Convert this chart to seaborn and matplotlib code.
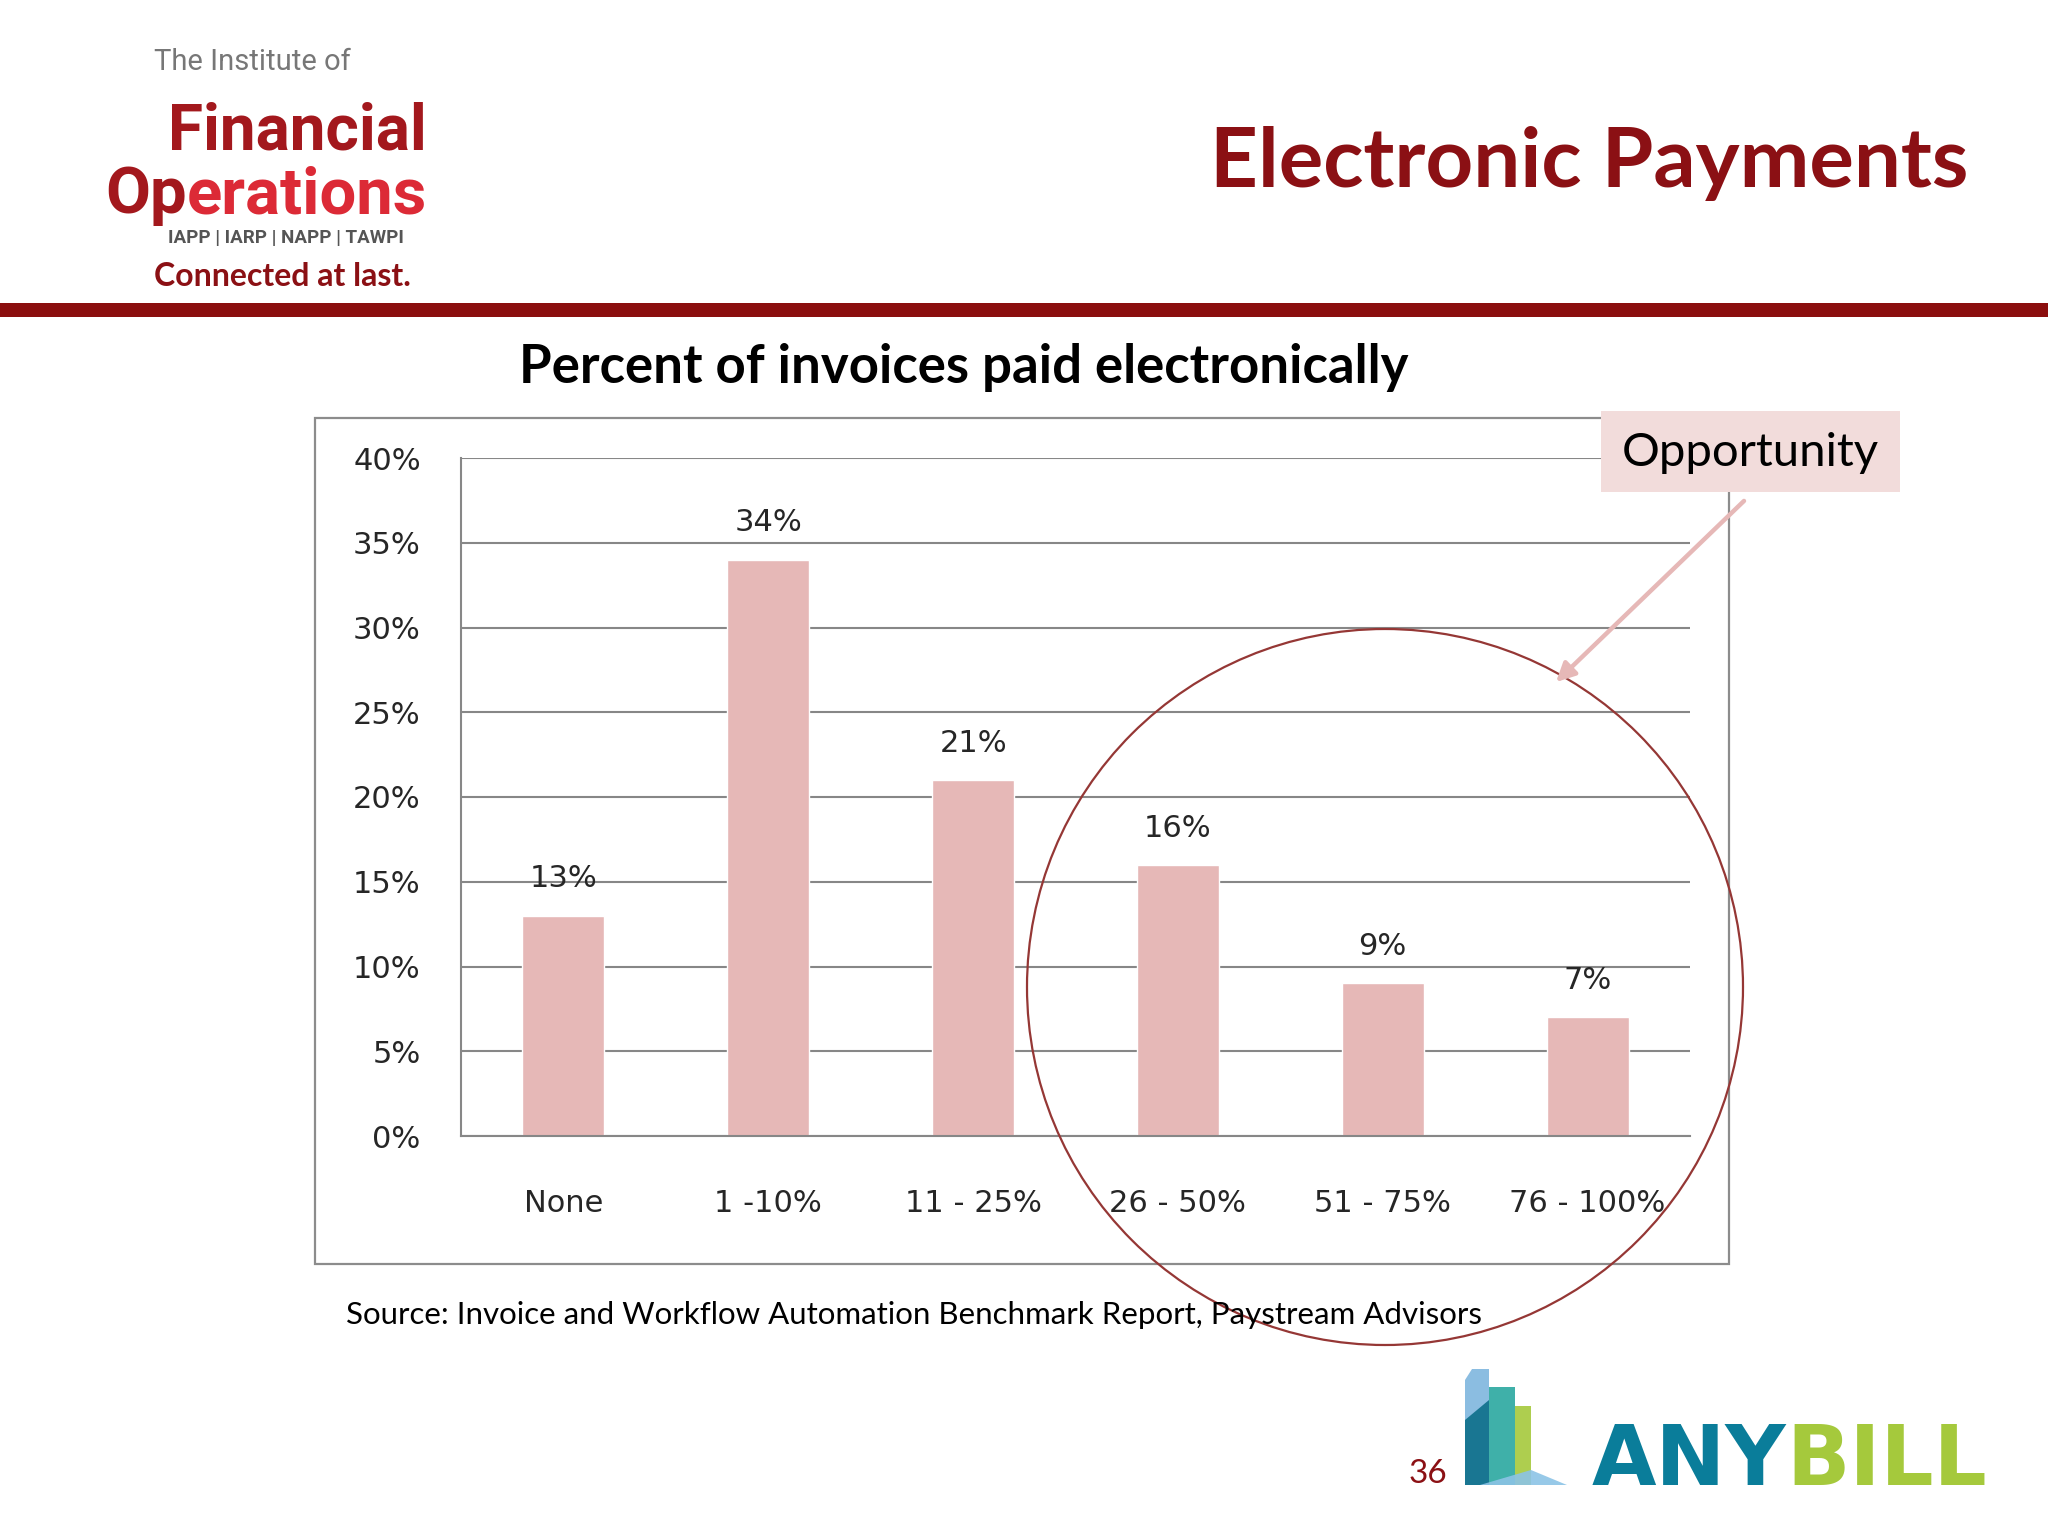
import matplotlib
matplotlib.use('Agg')
import matplotlib.pyplot as plt
import seaborn as sns
from matplotlib.patches import Rectangle, Ellipse, FancyArrowPatch, Polygon
from matplotlib.ticker import PercentFormatter, FixedLocator

# data
categories = ['None', '1 -10%', '11 - 25%', '26 - 50%', '51 - 75%', '76 - 100%']
share_paid = [0.13, 0.34, 0.21, 0.16, 0.09, 0.07]
bar_labels = ['13%', '34%', '21%', '16%', '9%', '7%']
y_ticks = [0, 0.05, 0.10, 0.15, 0.20, 0.25, 0.30, 0.35, 0.40]

W, H = 2048, 1536
def fx(x): return x / W          # pixel -> figure fraction
def fy(y): return 1 - y / H

sns.set_style('white')
plt.rcParams['font.family'] = ['DejaVu Sans']

dark_red = '#8b1014'
bar_pink = '#e6b8b7'
grid_grey = '#878787'
calibri_like = ['Lato', 'DejaVu Sans']
logo_font = ['Roboto', 'DejaVu Sans']

fig = plt.figure(figsize=(20.48, 15.36), dpi=100)
fig.patch.set_facecolor('white')
renderer = fig.canvas.get_renderer()

# header: logo text, title, red rule
fig.text(fx(252), fy(62), 'The Institute of', fontsize=21, color='#777777',
         family=logo_font, ha='center', va='center')
fig.text(fx(427), fy(149), 'Financial', fontsize=46, color='#a3181d', weight='bold',
         family=logo_font, ha='right', va='baseline')
rest = fig.text(fx(427), fy(213), 'erations', fontsize=47, color='#dc2a36', weight='bold',
                family=logo_font, ha='right', va='baseline')
rest_left = rest.get_window_extent(renderer).x0
fig.text(rest_left / W, fy(213), 'Op', fontsize=47, color='#a3181d', weight='bold',
         family=logo_font, ha='right', va='baseline')
fig.text(fx(286), fy(238), 'IAPP | IARP | NAPP | TAWPI', fontsize=13.5, color='#555555', weight='bold',
         family=logo_font, ha='center', va='center')
fig.text(fx(282), fy(277), 'Connected at last.', fontsize=23, color=dark_red, weight='bold',
         family=calibri_like, ha='center', va='center')
fig.text(fx(1968), fy(187), 'Electronic Payments', fontsize=60, color=dark_red, weight='bold',
         family=calibri_like, ha='right', va='baseline')
fig.add_artist(Rectangle((0, fy(317)), 1, fy(303) - fy(317), transform=fig.transFigure,
                         color='#8b0e0e', lw=0))

fig.text(fx(964), fy(368), 'Percent of invoices paid electronically', fontsize=38, weight='bold',
         family=calibri_like, ha='center', va='center', color='black')

# chart frame
fig.add_artist(Rectangle((fx(315), fy(1264)), fx(1729) - fx(315), fy(418) - fy(1264),
                         transform=fig.transFigure, fill=False, edgecolor='#8c8c8c', lw=1.6))

ax = fig.add_axes([fx(461), fy(1136), fx(1690) - fx(461), fy(458) - fy(1136)])
sns.barplot(x=categories, y=share_paid, color=bar_pink, saturation=1, width=0.4, ax=ax)
ax.bar_label(ax.containers[0], labels=bar_labels, padding=16, fontsize=22)

ax.set_xlim(-0.5, 5.5)
ax.set_ylim(0, 0.40)
ax.yaxis.set_major_locator(FixedLocator(y_ticks))
ax.yaxis.set_major_formatter(PercentFormatter(1.0, decimals=0))
ax.set_xticks([-0.5, 0.5, 1.5, 2.5, 3.5, 4.5, 5.5], minor=True)
ax.yaxis.grid(True, color=grid_grey, lw=1.5)
ax.set_axisbelow(True)
ax.set_xlabel('')
ax.set_ylabel('')
ax.patch.set_alpha(0)
for side in ['top', 'right']:
    ax.spines[side].set_visible(False)
for side in ['left', 'bottom']:
    ax.spines[side].set_color(grid_grey)
    ax.spines[side].set_linewidth(1.5)
ax.tick_params(axis='y', length=11, width=1.5, color=grid_grey, pad=18, labelsize=22)
ax.tick_params(axis='x', which='major', length=0, pad=38, labelsize=22)
ax.tick_params(axis='x', which='minor', length=10, width=1.5, color=grid_grey)

# annotation: circle, callout box and arrow
fig.add_artist(Ellipse((fx(1385), fy(987)), 2 * 358 / W, 2 * 358 / H, transform=fig.transFigure,
                       fill=False, edgecolor='#953735', lw=1.6))
fig.add_artist(Rectangle((fx(1601), fy(492)), fx(1900) - fx(1601), fy(411) - fy(492),
                         transform=fig.transFigure, facecolor='#f2dcdb', edgecolor='none'))
fig.text(fx(1750), fy(453), 'Opportunity', fontsize=34, family=calibri_like,
         ha='center', va='center', color='black')
fig.add_artist(FancyArrowPatch((fx(1746), fy(499)), (fx(1554), fy(684)), transform=fig.transFigure,
                               arrowstyle='-|>', mutation_scale=28, color=bar_pink, lw=3.2))

fig.text(fx(346), fy(1315), 'Source: Invoice and Workflow Automation Benchmark Report, Paystream Advisors',
         fontsize=22.5, family=calibri_like, ha='left', va='center', color='black')

# footer: page number and ANYBILL mark
fig.text(fx(1428), fy(1474), '36', fontsize=24, color=dark_red, family=calibri_like,
         ha='center', va='center')
icon = [
    ([(1465, 1485), (1465, 1380), (1472, 1369), (1489, 1369), (1489, 1485)], '#7fb6de'),
    ([(1465, 1485), (1465, 1420), (1489, 1400), (1489, 1485)], '#0d6f8a'),
    ([(1489, 1485), (1489, 1387), (1515, 1387), (1515, 1485)], '#2aa8a0'),
    ([(1515, 1485), (1515, 1406), (1531, 1406), (1531, 1485)], '#a5c93c'),
    ([(1480, 1485), (1531, 1470), (1567, 1485)], '#8cc3e6'),
]
for pts, col in icon:
    fig.add_artist(Polygon([(fx(x), fy(y)) for x, y in pts], closed=True, transform=fig.transFigure,
                           facecolor=col, edgecolor='none', alpha=0.9))
fig.text(fx(1786), fy(1485), 'ANY', fontsize=60, weight='bold', color='#0a7d9a',
         ha='right', va='baseline')
fig.text(fx(1786), fy(1485), 'BILL', fontsize=60, weight='bold', color='#a5c93c',
         ha='left', va='baseline')

fig.savefig('out.png', dpi=100)
